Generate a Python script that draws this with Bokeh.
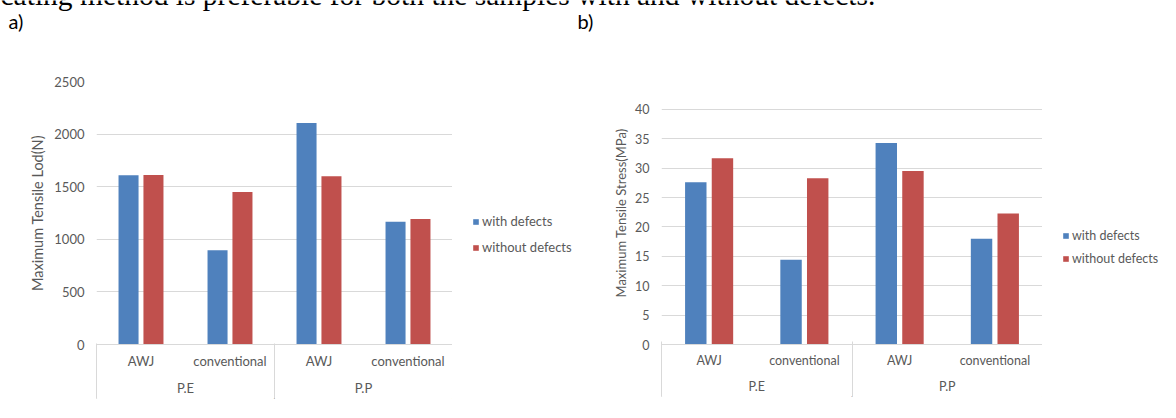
from bokeh.plotting import figure
from bokeh.models import (FactorRange, Range1d, FixedTicker, Label, Legend, LegendItem,
                          CategoricalAxis, ColumnDataSource)
from bokeh.transform import dodge
from bokeh.layouts import row, column
from bokeh.embed import file_html
from bokeh.resources import INLINE

# ---------------- data ----------------
materials = ["P.E", "P.E", "P.P", "P.P"]
methods = ["AWJ", "conventional", "AWJ", "conventional"]
series_names = ["with defects", "without defects"]

load_with = [1610, 895, 2105, 1168]
load_without = [1612, 1450, 1600, 1192]
load_ticks = [0, 500, 1000, 1500, 2000, 2500]

stress_with = [27.6, 14.4, 34.3, 18.0]
stress_without = [31.7, 28.3, 29.5, 22.3]
stress_ticks = [0, 5, 10, 15, 20, 25, 30, 35, 40]

caption = "cating method is preferable for both the samples with and without defects."
panel_labels = ["a)", "b)"]
y_titles = ["Maximum Tensile Lod(N)", "Maximum Tensile Stress(MPa)"]

BLUE = "#4F81BD"
RED = "#C0504D"
GRID = "#D9D9D9"
TXT = "#595959"
FONT = "Lato"

W = 1160
HEAD = 40          # header strip with caption and panel letters
HC = 362           # chart figure height
TOP = 41
BOTTOM = 57


def bare(width, height, top=0, bottom=0):
    f = figure(width=width, height=height, title=None,
               x_range=Range1d(0, width), y_range=Range1d(0, height),
               x_axis_location=None, y_axis_location=None,
               output_backend="svg", toolbar_location=None,
               min_border_left=0, min_border_right=0,
               min_border_top=top, min_border_bottom=bottom)
    f.grid.visible = False
    f.outline_line_color = None
    return f


def make_chart(width, mb_left, with_vals, without_vals, ticks, y_end,
               y_title, title_standoff, fs, tfs):
    factors = list(zip(materials, methods))
    xr = FactorRange(*factors, range_padding=0, factor_padding=0, group_padding=0)
    p = figure(width=width, height=HC, x_range=xr, title=None,
               y_range=Range1d(ticks[0], y_end),
               output_backend="svg", toolbar_location=None,
               min_border_left=mb_left, min_border_right=0,
               min_border_top=TOP, min_border_bottom=BOTTOM)
    p.outline_line_color = None
    src = ColumnDataSource(dict(x=factors, a=with_vals, b=without_vals))
    p.vbar(x=dodge("x", -0.14, range=p.x_range), top="a", width=0.225, bottom=0,
           source=src, fill_color=BLUE, line_color=None)
    p.vbar(x=dodge("x", 0.14, range=p.x_range), top="b", width=0.225, bottom=0,
           source=src, fill_color=RED, line_color=None)

    # y axis
    ya = p.yaxis[0]
    ya.ticker = FixedTicker(ticks=ticks)
    ya.axis_line_color = None
    ya.major_tick_line_color = None
    ya.major_tick_out = 0
    ya.minor_tick_line_color = None
    ya.major_label_text_color = TXT
    ya.major_label_text_font = FONT
    ya.major_label_text_font_size = f"{fs}px"
    ya.major_label_standoff = 12
    ya.axis_label = y_title
    ya.axis_label_text_color = TXT
    ya.axis_label_text_font = FONT
    ya.axis_label_text_font_size = f"{tfs}px"
    ya.axis_label_text_font_style = "normal"
    ya.axis_label_standoff = title_standoff
    p.ygrid.grid_line_color = GRID
    p.xgrid.grid_line_color = None

    # categorical x axis
    xa = p.xaxis[0]
    xa.axis_line_color = GRID
    xa.major_tick_line_color = None
    xa.major_tick_out = 0
    xa.minor_tick_line_color = None
    xa.major_label_text_color = TXT
    xa.major_label_text_font = FONT
    xa.major_label_text_font_size = f"{fs}px"
    xa.major_label_standoff = 8
    xa.group_text_color = TXT
    xa.group_text_font = FONT
    xa.group_text_font_size = f"{fs}px"
    xa.group_text_font_style = "normal"
    xa.separator_line_color = None

    # box lines of the category axis (left edge, group separator, right edge)
    p.extra_x_ranges = {"box": FactorRange("l", "m", "r", range_padding=-0.499,
                                           range_padding_units="absolute")}
    bx = CategoricalAxis(x_range_name="box")
    bx.axis_line_color = None
    bx.major_label_overrides = {"l": "", "m": "", "r": ""}
    bx.major_label_text_font_size = "1px"
    bx.major_label_standoff = 0
    bx.major_tick_line_color = GRID
    bx.major_tick_in = 55
    bx.major_tick_out = 0
    bx.minor_tick_line_color = None
    bx.separator_line_color = None
    p.add_layout(bx, "below")
    return p


def make_legend_fig(width, dx, dy, spacing, fs):
    f = bare(width, HC, TOP, BOTTOM)
    # zero-size proxy bars: they draw nothing, but give the legend its swatches
    k1 = f.vbar(x=[0], top=[0], bottom=[0], width=0, fill_color=BLUE, line_color=None)
    k2 = f.vbar(x=[0], top=[0], bottom=[0], width=0, fill_color=RED, line_color=None)
    legend = Legend(items=[LegendItem(label=series_names[0], renderers=[k1]),
                           LegendItem(label=series_names[1], renderers=[k2])],
                    location=(dx, dy), orientation="vertical",
                    glyph_width=7, glyph_height=7, label_standoff=3,
                    label_text_font=FONT, label_text_font_size=f"{fs}px",
                    label_text_color=TXT, spacing=spacing, padding=0, margin=0,
                    border_line_color=None, background_fill_alpha=0)
    f.add_layout(legend, "center")
    return f


fa = make_chart(452, 96, load_with, load_without, load_ticks, 2500,
                y_titles[0], 5, 13, 14.5)
la = make_legend_fig(123, 20, 89, 10, 13)
fb = make_chart(467, 86, stress_with, stress_without, stress_ticks,
                40 * 264 / 236, y_titles[1], 3, 12.5, 13)
lb = make_legend_fig(118, 20, 78, 8, 12.5)

head = bare(W, HEAD)
head.add_layout(Label(x=0, y=HEAD + 6, text=caption, text_font="Liberation Serif",
                      text_font_size="29.5px", text_color="#000000",
                      text_baseline="alphabetic"))
head.add_layout(Label(x=8, y=HEAD - 20, text=panel_labels[0], text_font=FONT,
                      text_font_size="20px", text_color="#000000",
                      text_baseline="alphabetic"))
head.add_layout(Label(x=577, y=HEAD - 20, text=panel_labels[1], text_font=FONT,
                      text_font_size="20px", text_color="#000000",
                      text_baseline="alphabetic"))

layout = column(head, row(fa, la, fb, lb))
open("out.html", "w").write(file_html(layout, INLINE))
